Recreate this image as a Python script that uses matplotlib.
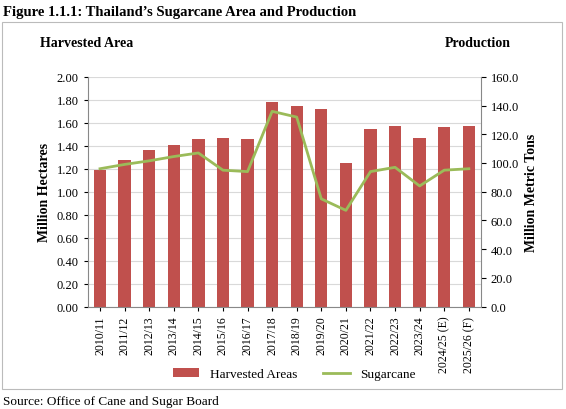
import matplotlib
matplotlib.use("Agg")
import matplotlib.pyplot as plt
from matplotlib.patches import Rectangle

plt.rcParams['font.family'] = ['Liberation Serif', 'DejaVu Serif']

years = ["2010/11","2011/12","2012/13","2013/14","2014/15","2015/16","2016/17","2017/18",
         "2018/19","2019/20","2020/21","2021/22","2022/23","2023/24","2024/25 (E)","2025/26 (F)"]
area = [1.19,1.28,1.36,1.41,1.46,1.47,1.46,1.78,1.75,1.72,1.25,1.55,1.57,1.47,1.56,1.57]
cane = [96,99,101.5,104.5,107,95,94,136,132,75,67,94,97,84,95,96]

fig = plt.figure(figsize=(5.66,4.10), dpi=100)
fig.patches.append(Rectangle((0.003,0.05),0.99,0.895,transform=fig.transFigure,fill=False,ec='#bbbbbb',lw=0.8))
ax = fig.add_axes([0.155,0.25,0.695,0.56])
x = range(len(years))
b = ax.bar(x, area, width=0.5, color='#c0504d', label='Harvested Areas')
ax.set_ylim(0,2.0)
ax.set_yticks([i*0.2 for i in range(11)])
ax.set_yticklabels([f"{i*0.2:.2f}" for i in range(11)], fontsize=9)
ax.set_xlim(-0.5,len(years)-0.5)
ax.set_xticks(list(x))
ax.set_xticklabels(years, rotation=90, fontsize=8.5)
ax.tick_params(length=3)
ax.grid(axis='y', color='#d9d9d9', lw=0.8)
ax.set_axisbelow(True)
for s in ['top','right']:
    ax.spines[s].set_visible(False)
ax.spines['left'].set_color('#888888'); ax.spines['bottom'].set_color('#888888')
ax.set_ylabel('Million Hectares', fontsize=10, fontweight='bold')
ax2 = ax.twinx()
l, = ax2.plot(x, cane, color='#9bbb59', lw=2, label='Sugarcane')
ax2.set_ylim(0,160)
ax2.set_yticks(range(0,161,20))
ax2.set_yticklabels([f"{v:.1f}" for v in range(0,161,20)], fontsize=9)
ax2.set_ylabel('Million Metric Tons', fontsize=10, fontweight='bold')
for s in ['top','left','bottom']:
    ax2.spines[s].set_visible(False)
ax2.spines['right'].set_color('#888888')
fig.text(0.005,0.985,"Figure 1.1.1: Thailand’s Sugarcane Area and Production",fontsize=10.5,fontweight='bold',va='top')
fig.text(0.07,0.885,"Harvested Area",fontsize=10,fontweight='bold')
fig.text(0.785,0.885,"Production",fontsize=10,fontweight='bold')
fig.legend([b,l],['Harvested Areas','Sugarcane'],loc='center',bbox_to_anchor=(0.52,0.085),ncol=2,frameon=False,fontsize=9.5)
fig.text(0.005,0.005,"Source: Office of Cane and Sugar Board",fontsize=9.5,va='bottom')
fig.savefig("out.png", dpi=100)
